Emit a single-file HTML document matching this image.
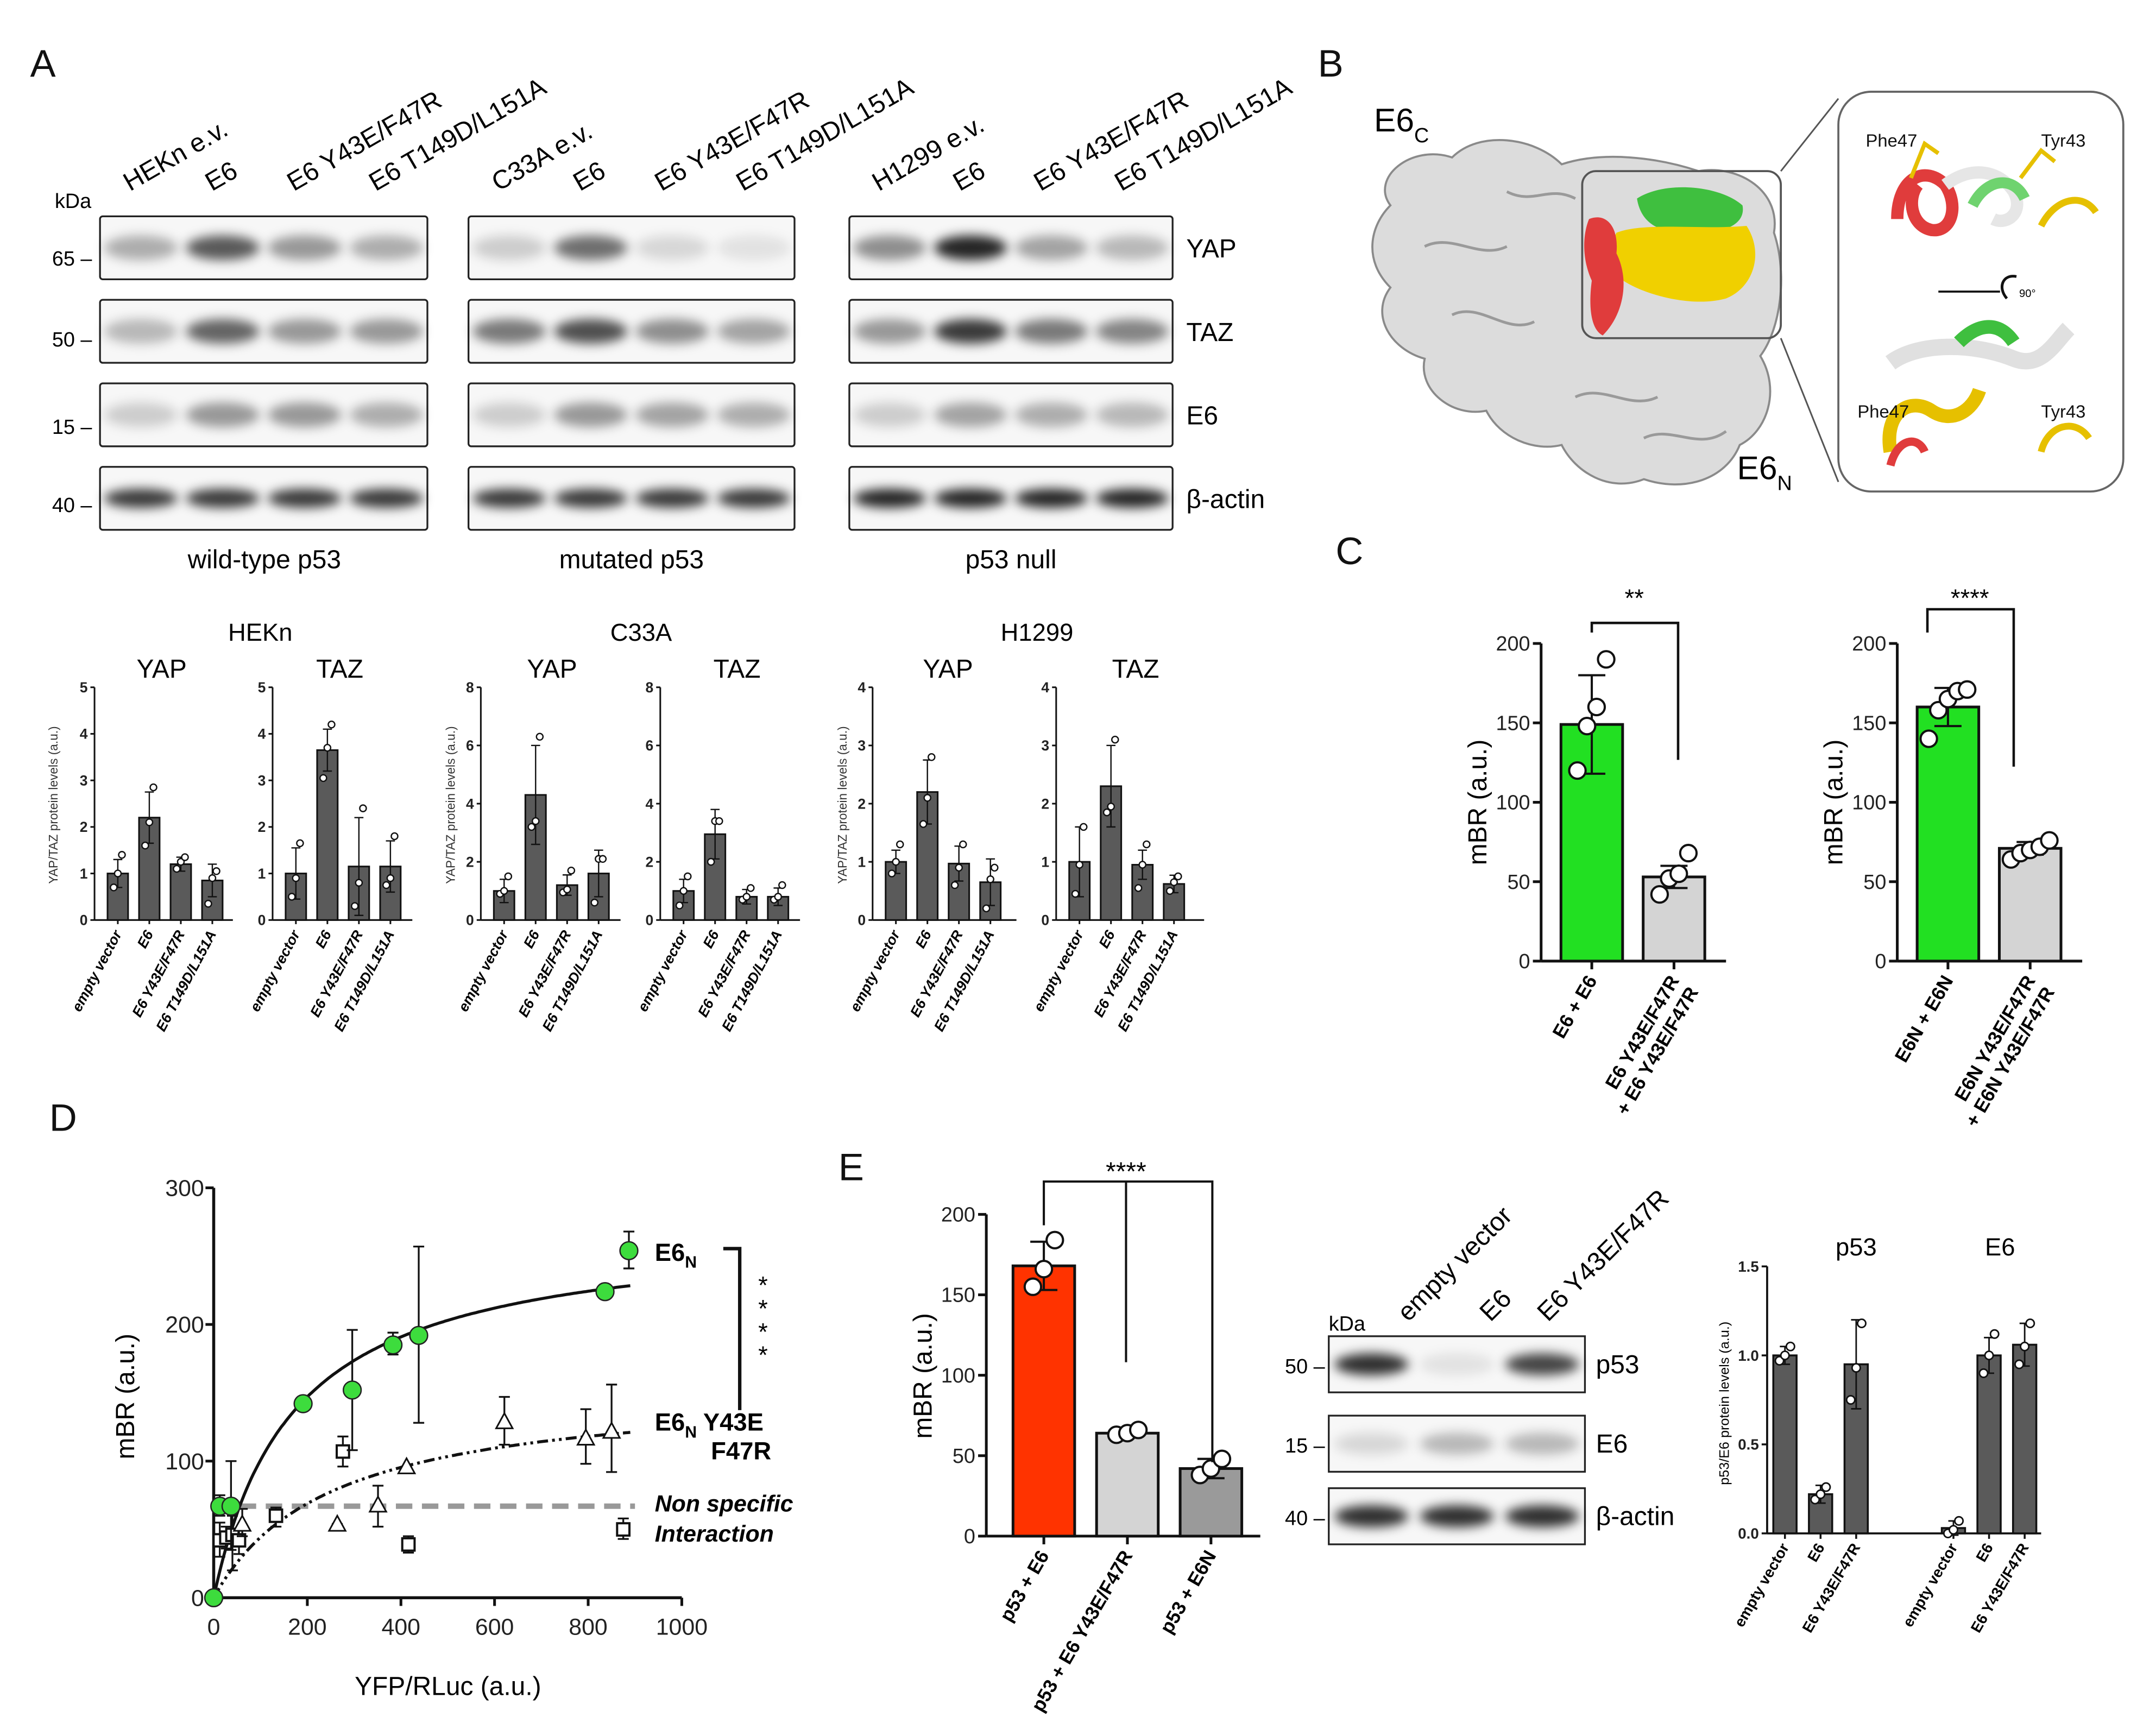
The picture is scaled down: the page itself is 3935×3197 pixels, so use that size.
<!DOCTYPE html>
<html><head><meta charset="utf-8"><style>
html,body{margin:0;padding:0;background:#fff;}
svg{display:block;font-family:"Liberation Sans",Arial,sans-serif;}
</style></head><body>
<svg id="fig" xmlns="http://www.w3.org/2000/svg" width="3935" height="3197" viewBox="0 0 1560 1268" preserveAspectRatio="none">
<defs>
<filter id="blur" x="-50%" y="-100%" width="200%" height="300%"><feGaussianBlur stdDeviation="4"/></filter>
<filter id="blur2" x="-20%" y="-20%" width="140%" height="140%"><feGaussianBlur stdDeviation="1.5"/></filter>
</defs>
<rect x="0" y="0" width="1560" height="1268" fill="#fff"/>
<g font-size="28" fill="#111">
<text x="22" y="56">A</text>
<text x="962" y="56">B</text>
<text x="975" y="412">C</text>
<text x="36" y="826">D</text>
<text x="612" y="862">E</text>
</g>
<g id="blotsA"></g>
<g id="chartsA"></g>
<g id="panelB">
<path d="M1015,150 C1000,130 1030,105 1060,115 C1080,95 1120,100 1140,120 C1170,110 1210,115 1240,125 C1270,120 1300,140 1295,170 C1305,200 1300,240 1285,260 C1300,285 1290,315 1270,325 C1260,350 1230,360 1200,350 C1175,360 1150,345 1140,325 C1120,330 1095,320 1085,300 C1060,305 1035,285 1040,262 C1015,255 1000,230 1015,210 C995,190 1000,165 1015,150 Z" fill="#dcdcdc" stroke="#8a8a8a" stroke-width="1.5"/>
<path d="M1040,180 C1060,170 1080,190 1100,180 M1060,230 C1080,220 1100,245 1120,235 M1150,290 C1170,280 1190,300 1210,290 M1100,140 C1120,150 1130,135 1150,145 M1200,320 C1220,310 1240,330 1260,315" stroke="#9a9a9a" stroke-width="2" fill="none"/>
<path d="M1195,145 C1215,132 1255,135 1272,150 C1275,165 1255,172 1235,168 C1215,172 1198,165 1195,145 Z" fill="#3fbf3f"/>
<path d="M1180,170 C1200,162 1240,168 1275,165 C1288,185 1280,210 1260,218 C1235,225 1200,215 1185,205 C1175,195 1175,180 1180,170 Z" fill="#f0d000"/>
<path d="M1160,160 C1172,155 1182,165 1180,185 C1190,205 1185,230 1170,245 C1160,240 1160,220 1162,205 C1155,190 1155,172 1160,160 Z" fill="#e03c3c"/>
<rect x="1155" y="125" width="145" height="122" rx="10" fill="none" stroke="#555" stroke-width="1.5"/>
<line x1="1300" y1="125" x2="1342" y2="72" stroke="#555" stroke-width="1.2"/>
<line x1="1300" y1="247" x2="1342" y2="352" stroke="#555" stroke-width="1.2"/>
<rect x="1342" y="67" width="208" height="292" rx="24" fill="#fff" stroke="#666" stroke-width="1.5"/>
<path d="M1385,160 C1385,130 1405,120 1420,135 C1430,150 1425,170 1410,168 C1395,165 1392,145 1400,135" stroke="#e03c3c" stroke-width="9" fill="none"/>
<path d="M1420,135 C1440,120 1460,125 1470,140 C1478,155 1465,165 1455,160" stroke="#e6e6e6" stroke-width="9" fill="none"/>
<path d="M1440,150 C1450,130 1470,128 1478,145" stroke="#6fd36f" stroke-width="8" fill="none"/>
<path d="M1490,165 C1500,145 1520,140 1530,155" stroke="#e6c000" stroke-width="5" fill="none"/>
<path d="M1395,130 L1405,105 L1415,112 M1475,130 L1490,110 L1500,118" stroke="#e6c000" stroke-width="3" fill="none"/>
<path d="M1380,265 C1400,250 1440,250 1470,262 C1490,270 1500,250 1510,240" stroke="#e0e0e0" stroke-width="12" fill="none"/>
<path d="M1430,250 C1445,235 1460,235 1470,250" stroke="#3fbf3f" stroke-width="10" fill="none"/>
<path d="M1380,330 C1375,300 1395,290 1410,300 C1425,310 1440,300 1445,285" stroke="#e6c000" stroke-width="10" fill="none"/>
<path d="M1380,340 C1385,320 1400,318 1405,330" stroke="#e03c3c" stroke-width="6" fill="none"/>
<path d="M1490,330 C1495,310 1515,305 1525,320" stroke="#e6c000" stroke-width="5" fill="none"/>
<line x1="1415" y1="213" x2="1460" y2="213" stroke="#111" stroke-width="1.5"/>
<path d="M1465,218 C1458,210 1462,200 1472,202" stroke="#111" stroke-width="2" fill="none"/>
<text x="1474" y="217" font-size="8">90°</text>
<g font-size="13" fill="#111">
<text x="1362" y="107">Phe47</text>
<text x="1490" y="107">Tyr43</text>
<text x="1356" y="305">Phe47</text>
<text x="1490" y="305">Tyr43</text>
</g>
<text x="1003" y="96" font-size="24">E6<tspan font-size="15" dy="8">C</tspan></text>
<text x="1268" y="350" font-size="24">E6<tspan font-size="15" dy="8">N</tspan></text>
</g>
<g id="panelC"></g>
<g id="panelD"></g>
<g id="panelE"></g>
</svg>
<script>
// ---------- Panel A bar chart data ----------
const aCategories = ["empty vector","E6","E6 Y43E/F47R","E6 T149D/L151A"];
const hekYapVals = [1.0,2.2,1.2,0.85];
const hekYapErr = [0.3,0.55,0.15,0.35];
const hekYapPts = [[0.7,1.0,1.4],[1.6,2.1,2.85],[1.1,1.25,1.35],[0.35,0.9,1.05]];
const hekTazVals = [1.0,3.65,1.15,1.15];
const hekTazErr = [0.55,0.45,1.05,0.55];
const hekTazPts = [[0.5,0.9,1.65],[3.05,3.7,4.2],[0.3,0.8,2.4],[0.75,0.9,1.8]];
const c33YapVals = [1.0,4.3,1.2,1.6];
const c33YapErr = [0.4,1.7,0.35,0.8];
const c33YapPts = [[0.9,1.0,1.5],[3.2,3.4,6.3],[0.95,1.05,1.7],[0.6,2.1,2.1]];
const c33TazVals = [1.0,2.95,0.8,0.8];
const c33TazErr = [0.4,0.85,0.25,0.3];
const c33TazPts = [[0.5,1.0,1.5],[2.0,3.4,3.4],[0.7,0.8,1.1],[0.7,0.8,1.2]];
const h12YapVals = [1.0,2.2,0.97,0.65];
const h12YapErr = [0.2,0.55,0.3,0.4];
const h12YapPts = [[0.8,1.0,1.3],[1.65,2.1,2.8],[0.6,0.9,1.3],[0.2,0.7,0.9]];
const h12TazVals = [1.0,2.3,0.95,0.62];
const h12TazErr = [0.6,0.7,0.25,0.15];
const h12TazPts = [[0.45,0.95,1.6],[1.85,1.95,3.1],[0.55,0.95,1.3],[0.5,0.65,0.75]];
const ticks5 = [0,1,2,3,4,5];
const ticks8 = [0,2,4,6,8];
const ticks4 = [0,1,2,3,4];
// ---------- Panel C data ----------
const cLeftCats = ["E6 + E6","E6 Y43E/F47R|+ E6 Y43E/F47R"];
const cLeftVals = [149,53];
const cLeftErr = [31,7];
const cLeftPts = [[120,148,160,190],[42,52,55,68]];
const cRightCats = ["E6N + E6N","E6N Y43E/F47R|+ E6N Y43E/F47R"];
const cRightVals = [160,71];
const cRightErr = [12,4];
const cRightPts = [[140,158,165,170,171],[64,68,70,72,76]];
const cTicks = [0,50,100,150,200];
// ---------- Panel D data ----------
const dGreenX = [0,13,37,191,296,383,438,836,887];
const dGreenY = [0,67,67,142,152,185,192,224,254];
const dGreenErrLo = [0,60,35,142,108,178,128,224,241];
const dGreenErrHi = [0,75,100,142,196,194,257,224,268];
const dTriX = [61,264,351,412,621,795,850];
const dTriY = [54,54,68,96,129,117,122];
const dTriErrLo = [45,54,52,96,112,98,92];
const dTriErrHi = [65,54,82,96,147,138,156];
const dSqX = [13,27,40,54,133,276,416,875];
const dSqY = [42,44,46,42,60,107,39,50];
const dSqErrLo = [30,36,20,32,52,96,33,43];
const dSqErrHi = [55,52,60,50,66,118,45,58];
const dFitWt = {bmax:272,kd:170};
const dFitMut = {bmax:155,kd:250};
const dNonSpecific = 67;
const dXTicks = [0,200,400,600,800,1000];
const dYTicks = [0,100,200,300];
// ---------- Panel E data ----------
const eCats = ["p53 + E6","p53 + E6 Y43E/F47R","p53 + E6N"];
const eVals = [168,64,42];
const eErr = [15,2,6];
const ePts = [[155,166,184],[63,64,66],[38,42,48]];
const eTicks = [0,50,100,150,200];
const eRCats = ["empty vector","E6","E6 Y43E/F47R"];
const eP53Vals = [1.0,0.22,0.95];
const eP53Err = [0.05,0.05,0.25];
const eP53Pts = [[0.97,1.0,1.05],[0.19,0.22,0.26],[0.75,0.93,1.18]];
const eE6Vals = [0.03,1.0,1.06];
const eE6Err = [0.04,0.1,0.12];
const eE6Pts = [[0.0,0.02,0.07],[0.9,1.0,1.12],[0.95,1.05,1.18]];
const eRTicks = [0,0.5,1.0,1.5];
// ---------- Blot intensities ----------
const blotRows = ["YAP","TAZ","E6","β-actin"];
const blotG1 = [[0.35,0.75,0.45,0.35],[0.3,0.7,0.45,0.45],[0.2,0.45,0.45,0.35],[0.9,0.9,0.9,0.9]];
const blotG2 = [[0.2,0.65,0.15,0.1],[0.6,0.8,0.5,0.4],[0.2,0.45,0.4,0.35],[0.9,0.9,0.9,0.9]];
const blotG3 = [[0.5,1.0,0.4,0.3],[0.45,0.9,0.6,0.55],[0.2,0.4,0.35,0.3],[1,1,1,1]];
const blotE = [[0.95,0.1,0.85],[0.15,0.3,0.3],[0.95,0.95,0.95]];

const NS="http://www.w3.org/2000/svg";
function el(tag,attrs,parent,txt){const e=document.createElementNS(NS,tag);for(const k in attrs)e.setAttribute(k,attrs[k]);if(txt!==undefined)e.textContent=txt;parent.appendChild(e);return e;}

// ---------- Blots ----------
function blot(parent,x0,w,rowsY,rowH,data,headers,name){
  const nl=data[0].length;
  data.forEach((row,ri)=>{
    const r=el('rect',{x:x0,y:rowsY[ri],width:w,height:rowH,fill:'#f7f7f7',stroke:'#222','stroke-width':1.3,rx:2},parent);
    
    
    row.forEach((v,li)=>{
      const cx=x0+(li+0.5)*w/nl;
      const b=el('ellipse',{cx:cx,cy:rowsY[ri]+rowH/2,rx:w/nl*0.45,ry:ri===data.length-1?7:9,fill:'#000','fill-opacity':v*0.85,filter:'url(#blur)'},parent);
      
      
    });
  });
  headers.forEach((h,i)=>{
    const cx=x0+(i+0.5)*w/nl-8;
    const t=el('text',{x:cx,y:rowsY[0]-18,'font-size':19,transform:`rotate(-30 ${cx} ${rowsY[0]-18})`},parent,h);
    
    
  });
}
const gA=document.getElementById('blotsA');
const rowsA=[158,219,280,341], rowHA=46;
blot(gA,73,239,rowsA,rowHA,blotG1,["HEKn e.v.","E6","E6 Y43E/F47R","E6 T149D/L151A"],'hekn-blot');
blot(gA,342,238,rowsA,rowHA,blotG2,["C33A e.v.","E6","E6 Y43E/F47R","E6 T149D/L151A"],'c33a-blot');
blot(gA,620,236,rowsA,rowHA,blotG3,["H1299 e.v.","E6","E6 Y43E/F47R","E6 T149D/L151A"],'h1299-blot');
[["kDa",40,152],["65 –",38,194],["50 –",38,253],["15 –",38,317],["40 –",38,374]].forEach(k=>{
  const t=el('text',{x:k[1],y:k[2],'font-size':15},gA,k[0]);
  
  
});
blotRows.forEach((r,i)=>{
  const t=el('text',{x:866,y:rowsA[i]+rowHA/2+7,'font-size':19},gA,r);
  
  
});
[["wild-type p53",193],["mutated p53",461],["p53 null",738]].forEach(c=>{
  const t=el('text',{x:c[1],y:415,'font-size':19,'text-anchor':'middle'},gA,c[0]);
  
  
});

// ---------- Generic bar chart ----------
function barChart(g,o,cats,vals,errs,pts,ticks){
  const y=v=>o.y0-(v/o.max)*(o.y0-o.yTop);
  const bx=i=>o.ax+o.pad+i*o.step;
  const ax=el('line',{x1:o.ax,y1:o.y0,x2:o.ax,y2:o.yTop,stroke:'#111','stroke-width':o.sw},g);
  
  
  const xa=el('line',{x1:o.ax,y1:o.y0,x2:o.xEnd,y2:o.y0,stroke:'#111','stroke-width':o.sw},g);
  
  
  ticks.forEach(t=>{
    const tl=el('line',{x1:o.ax-o.tk,y1:y(t),x2:o.ax,y2:y(t),stroke:'#111','stroke-width':o.sw},g);
    
    
    const tt=el('text',{x:o.ax-o.tk-2,y:y(t)+o.fs*0.35,'font-size':o.fs,'text-anchor':'end','font-weight':o.bold?'bold':'normal',fill:'#222'},g,o.fmt?o.fmt(t):t);
    
    
  });
  vals.forEach((v,i)=>{
    const fill=Array.isArray(o.fill)?o.fill[i]:o.fill;
    const r=el('rect',{x:bx(i)-o.bw/2,y:Math.min(y(v),o.y0),width:o.bw,height:Math.abs(o.y0-y(v)),fill:fill,stroke:'#111','stroke-width':o.sw},g);
    
    
    const e=errs[i], ew=o.bw*0.22;
    const eb=el('path',{d:`M${bx(i)},${y(v)} V${y(v+e)} M${bx(i)-ew},${y(v+e)} H${bx(i)+ew} M${bx(i)},${y(v)} V${y(v-e)} M${bx(i)-ew},${y(v-e)} H${bx(i)+ew}`,stroke:'#111','stroke-width':o.sw*0.8,fill:'none'},g);
    
    
    pts[i].forEach((p,j)=>{
      const off=(j-(pts[i].length-1)/2)*o.jit;
      const c=el('circle',{cx:bx(i)+off,cy:y(p),r:o.pr,fill:'#fff',stroke:'#111','stroke-width':o.sw*0.8},g);
      
      
    });
    if(o.xt){
      const lx=bx(i)+o.lfs*0.3, ly=o.y0+o.lgap;
      const lines=cats[i].split('|');
      lines.forEach((ln,k)=>{
        const t=el('text',{x:lx+k*o.lfs*1.0,y:ly+k*o.lfs*0.6,'font-size':o.lfs,'font-weight':'bold','font-style':o.italic?'italic':'normal','text-anchor':'end',transform:`rotate(${o.rot} ${lx+k*o.lfs*1.0} ${ly+k*o.lfs*0.6})`},g,ln);
        
        
      });
      const tk=el('line',{x1:bx(i),y1:o.y0,x2:bx(i),y2:o.y0+o.tk,stroke:'#111','stroke-width':o.sw},g);
      
      
    }
  });
  return {y,bx};
}

// ---------- Panel A charts ----------
const gCA=document.getElementById('chartsA');
const aOpt=(ax,xEnd,max)=>({ax:ax,xEnd:xEnd,y0:672,yTop:502,max:max,pad:17,step:23,bw:15,fill:'#5a5a5a',sw:1.2,tk:3,fs:10.5,bold:true,pr:2.4,jit:3,xt:true,lfs:10.5,lgap:10,rot:-62,italic:true});
barChart(gCA,aOpt(69,170,5),aCategories,hekYapVals,hekYapErr,hekYapPts,ticks5);
barChart(gCA,aOpt(199,301,5),aCategories,hekTazVals,hekTazErr,hekTazPts,ticks5);
barChart(gCA,aOpt(351,453,8),aCategories,c33YapVals,c33YapErr,c33YapPts,ticks8);
barChart(gCA,aOpt(482,584,8),aCategories,c33TazVals,c33TazErr,c33TazPts,ticks8);
barChart(gCA,aOpt(637,742,4),aCategories,h12YapVals,h12YapErr,h12YapPts,ticks4);
barChart(gCA,aOpt(771,879,4),aCategories,h12TazVals,h12TazErr,h12TazPts,ticks4);
[["HEKn",190,468,18],["C33A",468,468,18],["H1299",757,468,18],["YAP",118,495,19],["TAZ",248,495,19],["YAP",403,495,19],["TAZ",538,495,19],["YAP",692,495,19],["TAZ",829,495,19]].forEach(t=>{
  const e=el('text',{x:t[1],y:t[2],'font-size':t[3],'text-anchor':'middle'},gCA,t[0]);
  
  
});
[42,332,618].forEach(x=>{
  const e=el('text',{x:x,y:588,'font-size':9,'text-anchor':'middle',fill:'#333',transform:`rotate(-90 ${x} 588)`},gCA,'YAP/TAZ protein levels (a.u.)');
  
  
});

// ---------- Panel C ----------
const gC=document.getElementById('panelC');
const cOpt=(ax,xEnd)=>({ax:ax,xEnd:xEnd,y0:702,yTop:470,max:200,pad:37,step:60,bw:45,fill:['#22e022','#d4d4d4'],sw:2,tk:6,fs:15,bold:false,pr:6,jit:7,xt:true,lfs:14,lgap:14,rot:-60,italic:false});
barChart(gC,cOpt(1125,1260),cLeftCats,cLeftVals,cLeftErr,cLeftPts,cTicks);
barChart(gC,cOpt(1385,1520),cRightCats,cRightVals,cRightErr,cRightPts,cTicks);
[[1085],[1345]].forEach(p=>{
  const e=el('text',{x:p[0],y:586,'font-size':19,'text-anchor':'middle',transform:`rotate(-90 ${p[0]} 586)`},gC,'mBR (a.u.)');
  
  
});
[["M1162,462 V455 H1225 V555","**",1193,443],["M1407,462 V445 H1470 V560","****",1438,443]].forEach(s=>{
  const p=el('path',{d:s[0],stroke:'#111','stroke-width':1.8,fill:'none'},gC);
  
  
  const t=el('text',{x:s[2],y:s[3],'font-size':18,'text-anchor':'middle'},gC,s[1]);
  
  
});

// ---------- Panel D ----------
const gD=document.getElementById('panelD');
const dx=v=>156+v*0.3417, dy=v=>1167-v*0.998;
(function(){
  let a=el('line',{x1:dx(0),y1:dy(0),x2:dx(1000),y2:dy(0),stroke:'#111','stroke-width':2.2},gD);
  
  
  a=el('line',{x1:dx(0),y1:dy(0),x2:dx(0),y2:dy(300),stroke:'#111','stroke-width':2.2},gD);
  
  
  dXTicks.forEach(t=>{
    const l=el('line',{x1:dx(t),y1:dy(0),x2:dx(t),y2:dy(0)+6,stroke:'#111','stroke-width':2},gD);
    
    
    const tx=el('text',{x:dx(t),y:dy(0)+27,'font-size':17,'text-anchor':'middle',fill:'#222'},gD,t);
    
    
  });
  dYTicks.forEach(t=>{
    const l=el('line',{x1:dx(0)-6,y1:dy(t),x2:dx(0),y2:dy(t),stroke:'#111','stroke-width':2},gD);
    
    
    const tx=el('text',{x:dx(0)-7,y:dy(t)+6,'font-size':17,'text-anchor':'end',fill:'#222'},gD,t);
    
    
  });
  let t=el('text',{x:327,y:1238,'font-size':19,'text-anchor':'middle'},gD,'YFP/RLuc (a.u.)');
  
  
  t=el('text',{x:98,y:1020,'font-size':19,'text-anchor':'middle',transform:'rotate(-90 98 1020)'},gD,'mBR (a.u.)');
  
  
  const ns=el('line',{x1:dx(0),y1:dy(dNonSpecific),x2:dx(900),y2:dy(dNonSpecific),stroke:'#999','stroke-width':4,'stroke-dasharray':'12 7'},gD);
  
  
  function fit(p){let d='';for(let v=0;v<=890;v+=5){d+=(v?'L':'M')+dx(v).toFixed(1)+','+dy(p.bmax*v/(p.kd+v)).toFixed(1);}return d;}
  let c=el('path',{d:fit(dFitWt),stroke:'#111','stroke-width':2.2,fill:'none'},gD);
  
  
  c=el('path',{d:fit(dFitMut),stroke:'#111','stroke-width':2.2,fill:'none','stroke-dasharray':'8 3 2 3 2 3'},gD);
  
  
  function eb(x,lo,hi,name){const X=dx(x);const p=el('path',{d:`M${X},${dy(lo)} V${dy(hi)} M${X-4},${dy(lo)} H${X+4} M${X-4},${dy(hi)} H${X+4}`,stroke:'#111','stroke-width':1.3,fill:'none'},gD);}
  dSqX.forEach((x,i)=>{
    eb(x,dSqErrLo[i],dSqErrHi[i],'square-error-bar');
    const r=el('rect',{x:dx(x)-4.5,y:dy(dSqY[i])-4.5,width:9,height:9,fill:'#fff',stroke:'#111','stroke-width':1.6},gD);
    
    
  });
  dTriX.forEach((x,i)=>{
    eb(x,dTriErrLo[i],dTriErrHi[i],'triangle-error-bar');
    const X=dx(x),Y=dy(dTriY[i]);
    const p=el('path',{d:`M${X},${Y-6} L${X+6},${Y+5} L${X-6},${Y+5} Z`,fill:'#fff',stroke:'#111','stroke-width':1.2},gD);
    
    
  });
  dGreenX.forEach((x,i)=>{
    eb(x,dGreenErrLo[i],dGreenErrHi[i],'green-error-bar');
    const cc=el('circle',{cx:dx(x),cy:dy(dGreenY[i]),r:6.5,fill:'#3ddc3d',stroke:'#222','stroke-width':1},gD);
    
    
  });
  t=el('text',{x:478,y:921,'font-size':18,'font-weight':'bold'},gD);
  t.innerHTML='E6<tspan font-size="12" dy="5">N</tspan>';
  
  
  t=el('text',{x:478,y:1045,'font-size':18,'font-weight':'bold'},gD);
  t.innerHTML='E6<tspan font-size="12" dy="5">N</tspan><tspan dy="-5"> Y43E</tspan>';
  
  
  t=el('text',{x:563,y:1066,'font-size':18,'font-weight':'bold','text-anchor':'end'},gD,'F47R');
  
  
  t=el('text',{x:478,y:1104,'font-size':17,'font-weight':'bold','font-style':'italic'},gD,'Non specific');
  
  
  t=el('text',{x:478,y:1126,'font-size':17,'font-weight':'bold','font-style':'italic'},gD,'Interaction');
  
  
  const br=el('path',{d:'M528,912 H540 V1030',stroke:'#111','stroke-width':2.5,fill:'none'},gD);
  
  
  [945,962,979,996].forEach(yy=>{
    const s=el('text',{x:557,y:yy,'font-size':18,'text-anchor':'middle'},gD,'*');
    
    
  });
})();

// ---------- Panel E ----------
const gE=document.getElementById('panelE');
barChart(gE,{ax:720,xEnd:920,y0:1122,yTop:887,max:200,pad:42,step:61,bw:45,fill:['#ff3300','#d4d4d4','#9a9a9a'],sw:2,tk:6,fs:15,bold:false,pr:6,jit:8,xt:true,lfs:14,lgap:14,rot:-60,italic:false},eCats,eVals,eErr,ePts,eTicks);
(function(){
  let t=el('text',{x:680,y:1005,'font-size':19,'text-anchor':'middle',transform:'rotate(-90 680 1005)'},gE,'mBR (a.u.)');
  
  
  const p=el('path',{d:'M762,895 V863 H885 V1068 M822,863 V995',stroke:'#111','stroke-width':1.6,fill:'none'},gE);
  
  
  t=el('text',{x:822,y:862,'font-size':19,'text-anchor':'middle'},gE,'****');
  
  
  const rowsE=[976,1034,1087];
  const gb=el('g',{},gE);
  
  
  blotE.forEach((row,ri)=>{
    const r=el('rect',{x:970,y:rowsE[ri],width:187,height:41,fill:'#f7f7f7',stroke:'#222','stroke-width':1.3},gb);
    
    
    row.forEach((v,li)=>{
      const b=el('ellipse',{cx:970+(li+0.5)*187/3,cy:rowsE[ri]+20.5,rx:27,ry:8,fill:'#000','fill-opacity':v*0.85,filter:'url(#blur)'},gb);
      
      
    });
  });
  [["p53",0],["E6",1],["β-actin",2]].forEach(r=>{
    const tt=el('text',{x:1165,y:rowsE[r[1]]+27,'font-size':19},gb,r[0]);
    
    
  });
  [["kDa",970,972],["50 –",938,1003],["15 –",938,1061],["40 –",938,1114]].forEach(k=>{
    const tt=el('text',{x:k[1],y:k[2],'font-size':15},gb,k[0]);
    
    
  });
  [["empty vector",1028],["E6",1088],["E6 Y43E/F47R",1130]].forEach(h=>{
    const tt=el('text',{x:h[1],y:966,'font-size':19,transform:`rotate(-45 ${h[1]} 966)`},gb,h[0]);
    
    
  });
})();
const eROpt={ax:1290,xEnd:1490,y0:1120,yTop:925,max:1.5,pad:13,step:26,bw:17,fill:'#5a5a5a',sw:1.4,tk:4,fs:11,bold:true,pr:3,jit:4,xt:true,lfs:11,lgap:10,rot:-60,italic:false,fmt:v=>v.toFixed(1)};
barChart(gE,eROpt,eRCats,eP53Vals,eP53Err,eP53Pts,eRTicks);
barChart(gE,Object.assign({},eROpt,{ax:1290,pad:136,xEnd:1490}),eRCats,eE6Vals,eE6Err,eE6Pts,[]);
(function(){
  [["p53",1355],["E6",1460]].forEach(h=>{
    const t=el('text',{x:h[1],y:917,'font-size':18,'text-anchor':'middle'},gE,h[0]);
    
    
  });
  const t=el('text',{x:1262,y:1025,'font-size':10,'text-anchor':'middle',transform:'rotate(-90 1262 1025)'},gE,'p53/E6 protein levels (a.u.)');
  
  
})();
</script>
</body></html>
